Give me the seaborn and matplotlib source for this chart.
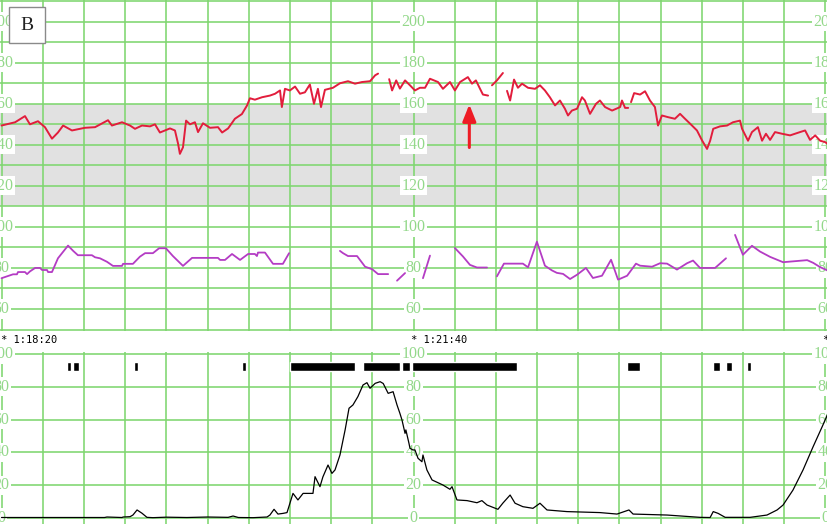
import numpy as np
import pandas as pd
import matplotlib
matplotlib.use("Agg")
import matplotlib.pyplot as plt
import seaborn as sns
from matplotlib.patches import Rectangle

# ---------------- data (time in seconds from 1:18:20) ----------------
# Fetal heart rate (red), separated into recorded segments
fhr_time_1 = [0, 6.6, 11.4, 13.8, 17.7, 21.1, 24.5, 27.4, 29.9, 34.2, 40.5, 45.4, 51.7, 53.6,
              58.5, 62.4, 64.8, 68.2, 72.1, 74.5, 76.9, 81.8, 84.2, 85.7, 86.6, 88.1, 89.6,
              91.5, 93.9, 95.4, 97.8, 101.2, 105.1, 107.1, 110, 113.3, 116.7, 119.2, 120.6,
              123, 126.5, 130.3, 132.8, 135.2, 136.1, 137.6, 140, 142.5, 144.9, 147.3, 149.7,
              151.7, 153.6, 155.1, 157, 160.9, 164.3, 168.2, 171.6, 175, 178.9, 181.4, 182.8]
fhr_bpm_1 = [149.4, 151, 154, 150, 151.5, 148.6, 143, 146, 149.4, 147, 148.3, 148.6, 152, 149.4,
             151, 149.4, 147.8, 149.4, 149, 150, 146, 148, 147, 140.6, 135.6, 138.8, 151.8,
             150, 151, 146.2, 150.5, 148.3, 148.6, 146, 148, 152.7, 155, 159.2, 162.7,
             162, 163.2, 164, 164.9, 166.5, 158.4, 167.3, 166.5, 168.4, 164.9, 165.6, 169.4,
             160, 167.3, 158.4, 166.8, 167.8, 170, 171, 169.8, 170.6, 171, 173.9, 174.7]
fhr_time_2 = [188.2, 189.6, 191.6, 193.4, 195.9, 198.3, 200.7, 203.1, 205.6, 208, 211.9, 214.3,
              217.7, 220.1, 222.6, 226.4, 228.4, 230.3, 232.3, 233.7, 236.2]
fhr_bpm_2 = [172, 166.5, 171.4, 167.4, 171.4, 169, 166.5, 167.8, 167.8, 172.2, 170.6, 167.3,
             170.6, 166.5, 170.6, 173, 169.8, 171.4, 167.3, 164.5, 164]
fhr_time_3 = [238.1, 240.5, 243.4]
fhr_bpm_3 = [169, 171.4, 175]
fhr_time_4 = [245.4, 246.9, 248.8, 250.7, 252.7, 255.6, 259, 261.4, 263.8, 266.2, 268.7, 271.1,
              273.5, 275, 276.9, 279.4, 281.8, 283.2, 285.7, 288.6, 290.5, 293, 296.4, 300.3,
              301.2, 302.7, 304.2]
fhr_bpm_4 = [166.3, 161.6, 171.8, 167.8, 169.8, 167.8, 167.3, 169, 166.5, 163.2, 159.2, 161.6,
             157.6, 154.3, 156.7, 157.6, 163.2, 161.6, 155.1, 160, 161.6, 158.4, 156.7, 158.4,
             161.6, 158, 158]
fhr_time_5 = [305.6, 307.1, 310, 312.4, 314.8, 317.2, 318.7, 320.6, 323.5, 326.9, 329.4, 331.8,
              335.2, 337.6, 340.1, 342.5, 344, 345.5, 348.8, 352.2, 355.1, 358.5, 359.5, 362.4,
              364.3, 367.2, 369.2, 371.1, 373.1, 375.5, 378.9, 382.8, 387.6, 390.1, 392.5, 395,
              397.4, 399.9, 400.9]
fhr_bpm_5 = [160.8, 165.2, 164.5, 166.1, 161.6, 158.4, 149.4, 154.3, 153.5, 152.7, 155.1, 152.7,
             149.4, 147, 142.1, 138, 142, 147.8, 149, 149.4, 151, 151.8, 147.8, 142,
             146.2, 148.6, 142, 145.4, 142.4, 146.2, 145.4, 144.6, 146.2, 147, 142.4, 144.6,
             142, 141.3, 140.5]

# Maternal heart rate (purple)
mhr_time_1 = [0, 5.6, 7.5, 8, 11.4, 12.4, 13.8, 16.3, 18.7, 19.7, 22.1, 22.6, 24.5, 27.4, 32.3,
              34.7, 37.1, 43.9, 45.4, 47.8, 51.2, 54.1, 58.5, 59, 63.8, 67.2, 69.7, 73.5, 76.5,
              79.8, 83.2, 88.1, 92.5, 105.1, 106.1, 108.5, 111.9, 115.8, 119.7, 123, 124,
              124.5, 127.9, 131.8, 136.6, 139.6]
mhr_bpm_1 = [75, 76.9, 76.9, 78, 78, 77, 78.3, 80, 80, 79, 79, 78, 78, 84.7, 90.9,
             88.4, 86.2, 86.2, 85.2, 84.7, 83, 81, 81, 82, 82, 85.5, 87.2, 87.2, 89.6,
             89.6, 85.8, 81, 84.9, 84.9, 83.9, 83.9, 86.8, 83.9, 86.8, 86.8, 85.8,
             87.5, 87.5, 82, 82, 87.2]
mhr_time_2 = [164.3, 165.8, 168.2, 172.6, 176.5, 179.9, 182.8, 187.7]
mhr_bpm_2 = [88.3, 87.2, 85.8, 85.8, 80.6, 79.4, 77, 77]
mhr_time_3 = [192, 195.9]
mhr_bpm_3 = [73.8, 77.5]
mhr_time_4 = [204.6, 208]
mhr_bpm_4 = [75, 86]
mhr_time_5 = [220.1, 224, 227.4, 230.8, 235.7]
mhr_bpm_5 = [89.7, 85.6, 81.5, 80.2, 80.2]
mhr_time_6 = [240.5, 243.9, 253.1, 255.6, 259.9, 263.8, 267.2, 269.6, 272.6, 276, 279.4, 283.7,
              287.1, 291.5, 295.9, 299.3, 303.7, 308, 310, 315.8, 319.7, 323.1, 327.9, 332.8,
              335.7, 339.1, 346.4, 351.7]
mhr_bpm_6 = [75.9, 82.1, 82.1, 80.3, 92.8, 81.1, 78.8, 77.6, 77.1, 74.6, 76.7, 80,
             75.1, 76.2, 84, 74.3, 76.2, 82.1, 81.1, 80.6, 82.3, 82.1, 79.2, 82.3,
             83.6, 80, 80, 84.7]
mhr_time_7 = [356.1, 359.9, 364.3, 368.2, 373.1, 379.4, 391.1, 394, 397.4, 400.9]
mhr_bpm_7 = [96.1, 86.4, 90.8, 88, 85.4, 82.8, 83.8, 82.5, 80.4, 78.8]

# Uterine activity (black)
toco_time = [0, 50, 51.2, 58.5, 59, 62.4, 63.8, 65.8, 68.2, 70.6, 73.5, 80, 90, 100, 110, 112.4,
             115, 122.1, 128.9, 130.3, 132.3, 134.2, 136.6, 138.6, 141.5, 143.9, 146.4, 151.2,
             152.2, 154.6, 156, 158.5, 160.4, 161.9, 164.3, 166.8, 168.7, 170.6, 173, 175.5,
             177.4, 178.9, 181.4, 183.8, 185.3, 187.7, 190.1, 192, 193.4, 194.4, 195.9, 196.3,
             197.8, 198.3, 199.7, 200.7, 202.2, 204.1, 204.6, 206.5, 209, 214.3, 217.7, 218.7,
             221.1, 226, 230.8, 233.2, 235.7, 241, 243.4, 246.9, 249.3, 253.1, 258, 261.4,
             264.8, 274.5, 290.5, 298.8, 304.6, 306.6, 323.1, 339.1, 344, 345.5, 347.9, 351.3,
             363.4, 371.6, 376.5, 379.4, 384.2, 389.1, 394, 398.4, 400.9]
toco_val = [0.3, 0.3, 0.6, 0.3, 0.6, 0.8, 1.8, 4.9, 2.9, 0.4, 0.2, 0.5, 0.3, 0.6, 0.4, 1.2,
            0.3, 0.2, 0.6, 1.8, 5.3, 2.4, 2.8, 3.3, 15, 11, 15, 15,
            25.2, 19.1, 25, 32.3, 27.2, 29.3, 38.4, 53.7, 66.9, 68.9, 74, 81.1,
            82.5, 79.1, 82.1, 83.1, 82, 76, 77, 68.9, 63.8, 59.8, 51.6, 53.7,
            45.5, 42.5, 41.5, 41.5, 36.4, 34.3, 38.4, 29.3, 23.2, 20.1, 17.5, 19.1,
            11, 10.6, 9.3, 10.6, 7.9, 5.3, 9.1, 14, 9, 6.9, 5.9, 9,
            4.9, 3.9, 3.3, 2.4, 4.9, 2.4, 1.8, 0.4, 0.3, 3.9, 2.8, 0.4,
            0.4, 1.8, 4.9, 7.9, 17, 29.3, 43.5, 55.7, 62.8]

# Fetal movement marks (start, end) in seconds
fm_start = [31.6, 34.9, 64.5, 116.6, 140.0, 175.6, 194.3, 199.4, 303.8, 345.5, 351.7, 362.0]
fm_end = [33.6, 37.6, 66.4, 118.5, 171.6, 193.4, 198.3, 250.4, 310.0, 348.8, 354.8, 363.8]

fhr_ticks = [60, 80, 100, 120, 140, 160, 180, 200]
toco_ticks = [0, 20, 40, 60, 80, 100]
time_labels = ["* 1:18:20", "* 1:21:40", "*"]
panel_label = "B"

# ---------------- styling ----------------
GRID = "#7fd670"
LBL = "#93d88a"
RED = "#e21d3c"
PURPLE = "#b43cc4"
ARROW = "#ee1c25"

W, H = 827, 524
sns.set_style("white")
fig = plt.figure(figsize=(W / 100, H / 100), dpi=100)
ax1 = fig.add_axes([0, (H - 331) / H, 1, 331 / H])
ax2 = fig.add_axes([0, 0, 1, 172 / H])

XMIN, XMAX = -0.73, 400.73


def seg_frame(times, vals):
    rows = []
    for i, (t, v) in enumerate(zip(times, vals)):
        for a, b in zip(t, v):
            rows.append((a, b, i))
    return pd.DataFrame(rows, columns=["t", "v", "seg"])


fhr_df = seg_frame([fhr_time_1, fhr_time_2, fhr_time_3, fhr_time_4, fhr_time_5],
                   [fhr_bpm_1, fhr_bpm_2, fhr_bpm_3, fhr_bpm_4, fhr_bpm_5])
mhr_df = seg_frame([mhr_time_1, mhr_time_2, mhr_time_3, mhr_time_4, mhr_time_5, mhr_time_6, mhr_time_7],
                   [mhr_bpm_1, mhr_bpm_2, mhr_bpm_3, mhr_bpm_4, mhr_bpm_5, mhr_bpm_6, mhr_bpm_7])
toco_df = pd.DataFrame({"t": toco_time, "v": toco_val})

# upper panel
ax1.axhspan(110, 160, color="#e1e1e1", zorder=0, lw=0)
sns.lineplot(data=mhr_df, x="t", y="v", units="seg", estimator=None, color=PURPLE,
             lw=1.3, ax=ax1, zorder=4, legend=False)
sns.lineplot(data=fhr_df, x="t", y="v", units="seg", estimator=None, color=RED,
             lw=1.4, ax=ax1, zorder=5, legend=False)
ax1.set_ylim(49.27, 210.58)
ax1.set_yticks(np.arange(50, 211, 10))

# lower panel
sns.lineplot(data=toco_df, x="t", y="v", color="black", lw=0.9, ax=ax2, zorder=4)
ax2.broken_barh([(s, e - s) for s, e in zip(fm_start, fm_end)], (89.6, 5.5),
                facecolors="black", zorder=4)
ax2.set_ylim(-3.66, 101.2)
ax2.set_yticks(toco_ticks)

for ax in (ax1, ax2):
    ax.set_xlim(XMIN, XMAX)
    ax.set_xticks(np.arange(0, 401, 20))
    ax.tick_params(length=0, labelbottom=False, labelleft=False)
    ax.grid(True, color=GRID, lw=1.15)
    ax.set_axisbelow(True)
    ax.set_xlabel("")
    ax.set_ylabel("")
    for s in ax.spines.values():
        s.set_visible(False)

lbl_kw = dict(ha="center", va="center", fontsize=11.5, family="Liberation Serif", color=LBL,
              zorder=3, bbox=dict(boxstyle="square,pad=0.1", fc="white", ec="none"))
for t in (0, 200, 400):
    for v in fhr_ticks:
        ax1.text(t, v, str(v), **lbl_kw)
    for v in toco_ticks:
        ax2.text(t, v, str(v), **lbl_kw)

# arrow
ax1.annotate("", xy=(227.1, 159.7), xytext=(227.1, 138.7),
             arrowprops=dict(arrowstyle="-|>,head_length=0.5,head_width=0.2", color=ARROW,
                             lw=2.2, mutation_scale=20, shrinkA=0, shrinkB=0), zorder=6)

# time strip
mono = dict(va="center", ha="left", family="DejaVu Sans Mono", fontsize=7.5, color="black")
fig.text(1 / W, 1 - 340 / H, time_labels[0], **mono)
fig.text(411 / W, 1 - 340 / H, time_labels[1], **mono)
fig.text(822 / W, 1 - 340 / H, time_labels[2], **mono)

# panel label
fig.add_artist(Rectangle((9 / W, 1 - 43 / H), 36 / W, 36 / H, transform=fig.transFigure,
                         fc="white", ec="#8a8a8a", lw=1, zorder=10))
fig.text(27 / W, 1 - 25 / H, panel_label, ha="center", va="center", fontsize=14,
         family="Liberation Serif", color="#222222", zorder=11)

fig.savefig("out.png", dpi=100)
